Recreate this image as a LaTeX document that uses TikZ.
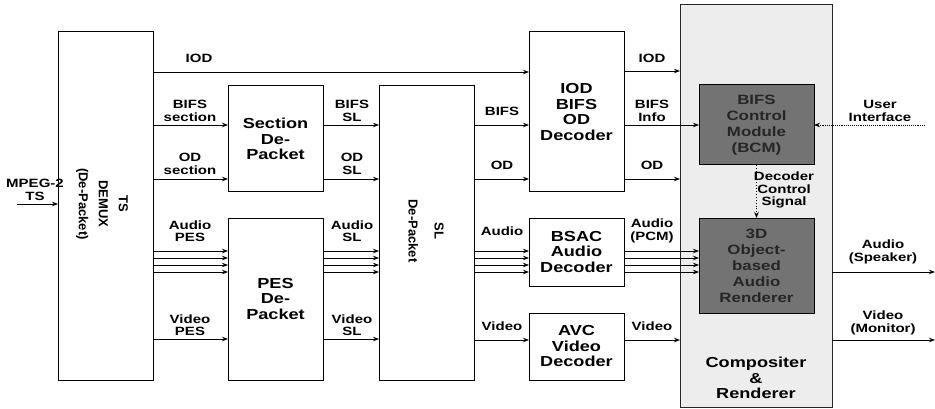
\documentclass[tikz,border=0pt]{standalone}
\usepackage{fontspec}
\setmainfont{Liberation Sans}
\newfontfamily\widefont[FakeStretch=1.25]{Liberation Sans}
\usetikzlibrary{arrows.meta,calc}
\begin{document}
\begin{tikzpicture}[x=1pt,y=-1pt,
  box/.style={draw, line width=1pt, outer sep=0pt, inner sep=0pt, fill=white,
    font=\widefont\bfseries\fontsize{14.5}{15.5}\selectfont, align=center},
  darkbox/.style={box, fill=black!55, text=black!85, font=\widefont\bfseries\fontsize{13.5}{16}\selectfont},
  lbl/.style={font=\widefont\bfseries\fontsize{12}{12.5}\selectfont, align=center, inner sep=0pt},
  rot/.style={rotate=-90, font=\bfseries\fontsize{13}{20}\selectfont, align=center, inner sep=0pt},
  arr/.style={line width=0.9pt, -{Stealth[length=6pt,width=4.5pt]}},
]
\useasboundingbox (0,0) rectangle (935,409);

% boxes
\node[box, minimum width=95pt, minimum height=348pt] (ts) at (105.5,206) {};
\node[rot] (tstext) at (102,204) {TS\\DEMUX\\(De-Packet)};
\node[box, minimum width=95pt, minimum height=106pt] (sec) at (275.5,139) {Section\\De-\\Packet};
\node[box, minimum width=95pt, minimum height=162pt] (pes) at (275.5,299) {PES\\De-\\Packet};
\node[box, minimum width=95pt, minimum height=294pt] (sl) at (426.5,233) {};
\node[rot, font=\bfseries\fontsize{13}{26}\selectfont] (sltext) at (426,231) {SL\\De-Packet};
\node[box, minimum width=95pt, minimum height=160pt] (iod) at (576.5,112) {IOD\\BIFS\\OD\\Decoder};
\node[box, minimum width=95pt, minimum height=68pt] (bsac) at (576.5,252) {BSAC\\Audio\\Decoder};
\node[box, minimum width=95pt, minimum height=67pt] (avc) at (576.5,346.5) {AVC\\Video\\Decoder};
\node[box, fill=black!7, draw=black!85, minimum width=152pt, minimum height=402pt] (comp) at (756,206) {};
\node[lbl, font=\widefont\bfseries\fontsize{14.5}{15.5}\selectfont] (comptext) at (756,378) {Compositer\\\&\\Renderer};
\node[darkbox, minimum width=115pt, minimum height=80pt] (bcm) at (756.5,125) {BIFS\\Control\\Module\\(BCM)};
\node[darkbox, minimum width=115pt, minimum height=95pt] (oar) at (756.5,265.5) {3D\\Object-\\based\\Audio\\Renderer};

% input
\coordinate (tsin) at (17,204);
\draw[arr] (tsin) -- (ts.west |- tsin);
\node[lbl] (lmpeg) at (35,190) {MPEG-2\\TS};

% TS -> ...
\draw[arr] (ts.east |- 0,72) -- (iod.west |- 0,72);
\node[lbl] (liod1) at (199,58) {IOD};
\draw[arr] (ts.east |- 0,125) -- (sec.west |- 0,125);
\node[lbl] (lbs) at (190,111) {BIFS\\section};
\draw[arr] (ts.east |- 0,179) -- (sec.west |- 0,179);
\node[lbl] (los) at (190,164) {OD\\section};
\foreach \yy in {251,258,265,272} {\draw[arr] (ts.east |- 0,\yy) -- (pes.west |- 0,\yy);}
\node[lbl] (lap) at (190,231) {Audio\\PES};
\draw[arr] (ts.east |- 0,339) -- (pes.west |- 0,339);
\node[lbl] (lvp) at (190,325) {Video\\PES};

% Section/PES -> SL
\draw[arr] (sec.east |- 0,125) -- (sl.west |- 0,125);
\node[lbl] (lbsl) at (352,111) {BIFS\\SL};
\draw[arr] (sec.east |- 0,179) -- (sl.west |- 0,179);
\node[lbl] (losl) at (352,164) {OD\\SL};
\foreach \yy in {251,258,265,272} {\draw[arr] (pes.east |- 0,\yy) -- (sl.west |- 0,\yy);}
\node[lbl] (lasl) at (352,231) {Audio\\SL};
\draw[arr] (pes.east |- 0,339) -- (sl.west |- 0,339);
\node[lbl] (lvsl) at (352,325) {Video\\SL};

% SL -> decoders
\draw[arr] (sl.east |- 0,125) -- (iod.west |- 0,125);
\node[lbl] (lbifs) at (502,111) {BIFS};
\draw[arr] (sl.east |- 0,179) -- (iod.west |- 0,179);
\node[lbl] (lod) at (502,165) {OD};
\foreach \yy in {251,258,265,272} {\draw[arr] (sl.east |- 0,\yy) -- (bsac.west |- 0,\yy);}
\node[lbl] (laud) at (502,231) {Audio};
\draw[arr] (sl.east |- 0,340) -- (avc.west |- 0,340);
\node[lbl] (lvid) at (502,326) {Video};

% decoders -> compositor
\draw[arr] (iod.east |- 0,71) -- (comp.west |- 0,71);
\node[lbl] (liod2) at (652,58) {IOD};
\draw[arr] (iod.east |- 0,125) -- (bcm.west |- 0,125);
\node[lbl] (lbi) at (652,111) {BIFS\\Info};
\draw[arr] (iod.east |- 0,179) -- (comp.west |- 0,179);
\node[lbl] (lod2) at (652,165) {OD};
\foreach \yy in {251,258,265,272} {\draw[arr] (bsac.east |- 0,\yy) -- (oar.west |- 0,\yy);}
\node[lbl] (lpcm) at (652,231) {Audio\\(PCM)};
\draw[arr] (avc.east |- 0,340) -- (comp.west |- 0,340);
\node[lbl] (lvid2) at (652,326) {Video};

% inside compositor
\draw[arr, dotted] (bcm.south) -- (oar.north);
\node[lbl] (ldcs) at (784,190) {Decoder\\Control\\Signal};

% user interface
\coordinate (uiin) at (925,125);
\draw[arr, densely dotted] (uiin) -- (bcm.east);
\node[lbl] (lui) at (880,111) {User\\Interface};

% outputs
\coordinate (aout) at (935,272);
\coordinate (vout) at (935,340);
\draw[arr] (comp.east |- aout) -- (aout);
\node[lbl] (lspk) at (883,252) {Audio\\(Speaker)};
\draw[arr] (comp.east |- vout) -- (vout);
\node[lbl] (lmon) at (883,323) {Video\\(Monitor)};
\end{tikzpicture}
\end{document}
